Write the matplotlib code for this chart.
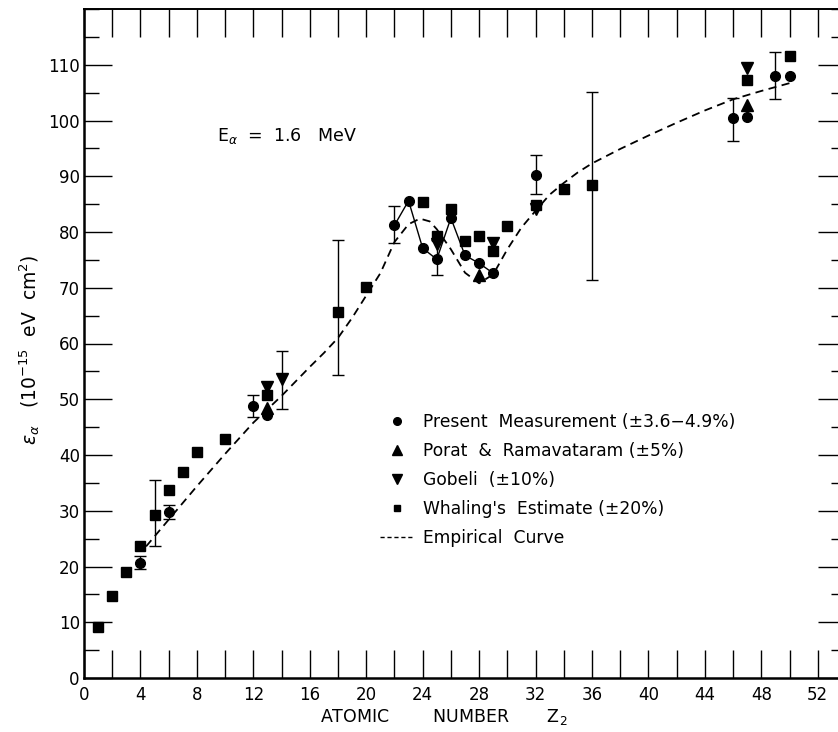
import numpy as np
import matplotlib
matplotlib.use('Agg')
import matplotlib.pyplot as plt
from matplotlib.lines import Line2D
from matplotlib.ticker import MultipleLocator

plt.rcParams['font.family'] = ['DejaVu Sans']
plt.rcParams['mathtext.fontset'] = 'dejavusans'

# present measurement (circles)
present_z = [4, 6, 12, 13, 22, 23, 24, 25, 26, 27, 28, 29, 32, 46, 47, 49, 50]
present_y = [20.6, 29.7, 48.7, 47.1, 81.2, 85.6, 77.1, 75.1, 82.5, 75.8, 74.4, 72.6,
             90.2, 100.4, 100.7, 107.9, 108.0]
# the run of present points joined by a solid line
joined_z = [22, 23, 24, 25, 26, 27, 28, 29]
joined_y = [81.2, 85.6, 77.1, 75.1, 82.5, 75.8, 74.4, 72.6]

# Porat & Ramavataram (up triangles)
porat_z = [13, 28, 47]
porat_y = [48.5, 72.2, 102.8]

# Gobeli (down triangles)
gobeli_z = [13, 14, 25, 29, 32, 47]
gobeli_y = [52.2, 53.7, 77.8, 78.0, 84.1, 109.4]

# Whaling's estimate (squares)
whaling_z = [1, 2, 3, 4, 5, 6, 7, 8, 10, 13, 18, 20, 24, 25, 26, 27, 28, 29, 30, 32, 34, 36, 47, 50]
whaling_y = [9.2, 14.7, 19.0, 23.6, 29.3, 33.8, 36.9, 40.5, 42.8, 50.7, 65.7, 70.2, 85.3,
             79.3, 84.1, 78.3, 79.2, 76.6, 81.1, 84.8, 87.8, 88.4, 107.3, 111.6]

# error bars (low / high ends)
err_z = [4, 5, 6, 12, 14, 18, 22, 25, 32, 36, 46, 49]
err_lo = [19.6, 23.6, 28.6, 46.8, 48.3, 54.3, 78.0, 72.2, 86.9, 71.4, 96.4, 103.8]
err_hi = [21.8, 35.6, 31.0, 50.7, 58.7, 78.5, 84.7, 78.5, 93.8, 105.1, 104.1, 112.2]

# empirical curve
curve_z = [4.4, 6, 8, 10, 12, 14, 15, 16, 17, 18, 19, 20, 21, 22, 23, 23.8, 24.5, 25,
           26, 27, 28, 29, 30, 31, 32, 33, 34, 35, 36, 38, 40, 42, 44, 46, 48, 50]
curve_y = [23.6, 28.4, 34.4, 40.2, 45.8, 50.6, 53.2, 55.8, 58.3, 61.0, 64.6, 68.6,
           72.6, 78.2, 81.4, 82.4, 81.9, 80.5, 76.9, 72.7, 70.8, 72.4, 76.9, 80.8,
           83.8, 86.7, 88.8, 90.7, 92.3, 94.9, 97.3, 99.6, 101.8, 103.8, 105.3, 106.7]

fig = plt.figure(figsize=(8.38, 7.32), dpi=100)
ax = fig.add_axes([84 / 838, 54 / 732, 762 / 838, 669 / 732])

ax.plot(curve_z, curve_y, color='black', lw=1.3, linestyle=(0, (4.5, 3)))
ax.plot(joined_z, joined_y, color='black', lw=1.0)

ax.vlines(err_z, err_lo, err_hi, color='black', lw=1.0)
ax.plot(err_z, err_lo, linestyle='none', marker='_', ms=8, mew=1.0, color='black')
ax.plot(err_z, err_hi, linestyle='none', marker='_', ms=8, mew=1.0, color='black')

ax.plot(whaling_z, whaling_y, 's', color='black', ms=6.5)
ax.plot(porat_z, porat_y, '^', color='black', ms=8)
ax.plot(gobeli_z, gobeli_y, 'v', color='black', ms=8)
ax.plot(present_z, present_y, 'o', color='black', ms=7)

ax.set_xlim(0, 54)
ax.set_ylim(0, 120)

ax.xaxis.set_major_locator(MultipleLocator(4))
ax.xaxis.set_minor_locator(MultipleLocator(2))
ax.yaxis.set_major_locator(MultipleLocator(10))
ax.yaxis.set_minor_locator(MultipleLocator(5))
ax.set_xticks(np.arange(0, 53, 4))
ax.set_yticks(np.arange(0, 111, 10))

ax.tick_params(axis='both', which='both', direction='in', top=True, right=True,
               width=1.0, labelsize=12)
ax.tick_params(axis='x', which='major', length=20, pad=6)
ax.tick_params(axis='x', which='minor', length=20)
ax.tick_params(axis='y', which='major', length=20, pad=3)
ax.tick_params(axis='y', which='minor', length=11)

ax.spines['left'].set_linewidth(1.8)
ax.spines['bottom'].set_linewidth(1.8)
ax.spines['top'].set_linewidth(1.4)
ax.spines['right'].set_linewidth(1.4)

ax.text(9.4, 97.2, r'E$_\alpha$  =  1.6   MeV', fontsize=12.5, va='center', ha='left')

ax.set_xlabel(r'ATOMIC        NUMBER       Z$_2$', fontsize=12.5)
ax.xaxis.set_label_coords(0.472, -0.043)
ax.set_ylabel(r'$\epsilon_\alpha$   (10$^{-15}$  eV  cm$^2$)', fontsize=13.5)
ax.yaxis.set_label_coords(-0.055, 0.49)

handles = [
    Line2D([], [], linestyle='none', marker='o', color='black', ms=5.5),
    Line2D([], [], linestyle='none', marker='^', color='black', ms=7),
    Line2D([], [], linestyle='none', marker='v', color='black', ms=7),
    Line2D([], [], linestyle='none', marker='s', color='black', ms=5),
    Line2D([], [], color='black', lw=1.0, linestyle=(0, (3, 2))),
]
labels = [
    'Present  Measurement (±3.6−4.9%)',
    'Porat  &  Ramavataram (±5%)',
    'Gobeli  (±10%)',
    "Whaling's  Estimate (±20%)",
    'Empirical  Curve',
]
ax.legend(handles, labels, loc='upper left', bbox_to_anchor=(0.38, 0.406),
          frameon=False, fontsize=12.3, handlelength=1.9, handletextpad=0.6,
          labelspacing=0.64, borderaxespad=0)

fig.savefig('out.png', dpi=100)
